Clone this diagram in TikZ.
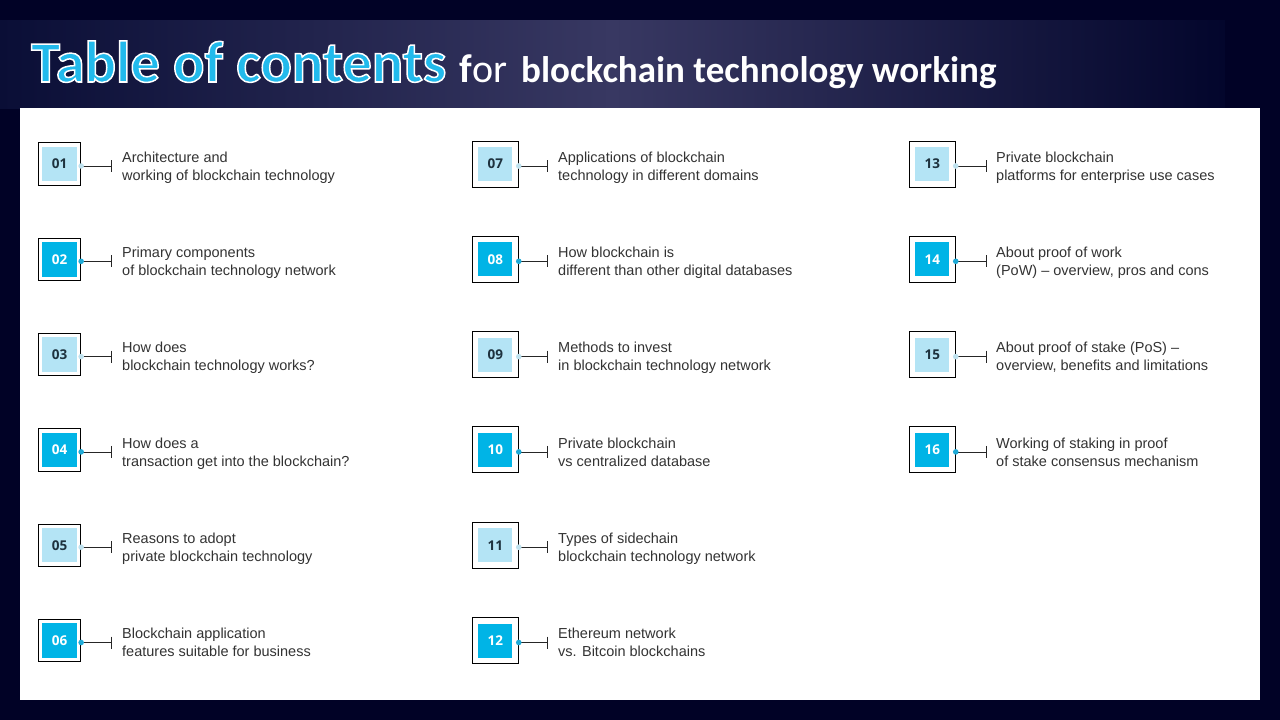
\documentclass[tikz,border=0pt]{standalone}
\usepackage{fontspec}
\setmainfont{Liberation Sans}
\newfontfamily\titlefont{Carlito}
\newfontfamily\numfont{Open Sans}
\definecolor{bgnavy}{RGB}{1,2,38}
\definecolor{bandL}{RGB}{10,14,54}
\definecolor{bandM}{RGB}{56,56,98}
\definecolor{bandR}{RGB}{3,6,44}
\definecolor{cyanT}{RGB}{34,186,236}
\definecolor{lightB}{RGB}{180,228,245}
\definecolor{cyanB}{RGB}{0,180,230}
\definecolor{txtgray}{RGB}{51,51,51}
\definecolor{numdark}{RGB}{30,50,62}
\definecolor{dotlight}{RGB}{190,225,238}
\definecolor{dotcyan}{RGB}{30,170,215}
\newcommand\tocsetcol[1]{\ifcase#1\or
  \def\tocbx{38.3}\def\tocbs{42.4}\def\tocbm{4}\def\tocle{111}\def\toctx{122}\or
  \def\tocbx{472.3}\def\tocbs{46}\def\tocbm{6}\def\tocle{547}\def\toctx{558}\or
  \def\tocbx{909.3}\def\tocbs{46}\def\tocbm{6}\def\tocle{986}\def\toctx{996}\fi}
\newcommand\tocitem[6]{% col, row, number, kind, line 1, line 2
  \tocsetcol{#1}%
  \pgfmathsetmacro\toccy{164+95.3*(#2-1)}%
  \pgfmathsetmacro\toccx{\tocbx+\tocbs/2}%
  \pgfmathsetmacro\tocis{\tocbs-2*\tocbm}%
  \node[outerbox, minimum size=\tocbs pt] (b#3) at (\toccx,\toccy) {};
  \node[#4box, minimum size=\tocis pt] (i#3) at (b#3.center) {#3};
  \coordinate (d#3) at ([yshift=-2pt]b#3.east);
  \coordinate (e#3) at (\tocle,\toccy+2);
  \draw[conn] (d#3) -- (e#3);
  \draw[conn] ([yshift=6pt]e#3) -- ([yshift=-6pt]e#3);
  \fill[#4dot] (d#3) circle (2.8);
  \node[itemtext] (t#3) at (\toctx,\toccy-12.6) {#5\\#6};
}
\newcommand\outlinedtext[1]{\special{pdf:literal direct 2 Tr 1.5 w 1 1 1 RG}#1\special{pdf:literal direct 0 Tr}}
\begin{document}
\begin{tikzpicture}[x=1pt,y=-1pt,
  outerbox/.style={draw=black, line width=0.9pt, fill=white, inner sep=0pt},
  lightbox/.style={fill=lightB, text=numdark, inner sep=0pt, font=\numfont\bfseries\fontsize{13.5}{13.5}\selectfont},
  cyanbox/.style={fill=cyanB, text=white, inner sep=0pt, font=\numfont\bfseries\fontsize{13.5}{13.5}\selectfont},
  lightdot/.style={fill=dotlight},
  cyandot/.style={fill=dotcyan},
  conn/.style={draw=black!85, line width=0.8pt},
  itemtext/.style={anchor=north west, inner sep=0pt, align=left, text=txtgray, font=\fontsize{14.5}{18}\selectfont},
  titlebig/.style={anchor=base west, inner sep=0pt, font=\titlefont\bfseries\fontsize{58.5}{59}\selectfont},
  titlesub/.style={anchor=base west, inner sep=0pt, text=white, font=\titlefont\bfseries\fontsize{37}{37}\selectfont}]
\useasboundingbox (0,0) rectangle (1280,720);
\fill[bgnavy] (0,0) rectangle (1280,720);
\shade[left color=bandL, right color=bandR, middle color=bandM] (0,20) rectangle (1225,108);
\fill[white] (20,108) rectangle (1260,700);
% title
\node[titlebig, text=cyanT] (ttl) at (31,82) {\outlinedtext{Table of contents}};
\node[titlesub, font=\titlefont\bfseries\fontsize{40}{40}\selectfont] (tf) at (459,82) {f};
\node[titlesub, font=\titlefont\fontsize{40}{40}\selectfont] (tor) at (472,82) {or};
\node[titlesub] (tsub) at (521,82) {blockchain technology working};
% items
\tocitem{1}{1}{01}{light}{Architecture and}{working of blockchain technology}
\tocitem{1}{2}{02}{cyan}{Primary components}{of blockchain technology network}
\tocitem{1}{3}{03}{light}{How does}{blockchain technology works?}
\tocitem{1}{4}{04}{cyan}{How does a}{transaction get into the blockchain?}
\tocitem{1}{5}{05}{light}{Reasons to adopt}{private blockchain technology}
\tocitem{1}{6}{06}{cyan}{Blockchain application}{features suitable for business}
\tocitem{2}{1}{07}{light}{Applications of blockchain}{technology in different domains}
\tocitem{2}{2}{08}{cyan}{How blockchain is}{different than other digital databases}
\tocitem{2}{3}{09}{light}{Methods to invest}{in blockchain technology network}
\tocitem{2}{4}{10}{cyan}{Private blockchain}{vs centralized database}
\tocitem{2}{5}{11}{light}{Types of sidechain}{blockchain technology network}
\tocitem{2}{6}{12}{cyan}{Ethereum network}{vs. Bitcoin blockchains}
\tocitem{3}{1}{13}{light}{Private blockchain}{platforms for enterprise use cases}
\tocitem{3}{2}{14}{cyan}{About proof of work}{(PoW) – overview, pros and cons}
\tocitem{3}{3}{15}{light}{About proof of stake (PoS) –}{overview, benefits and limitations}
\tocitem{3}{4}{16}{cyan}{Working of staking in proof}{of stake consensus mechanism}
\end{tikzpicture}
\end{document}
